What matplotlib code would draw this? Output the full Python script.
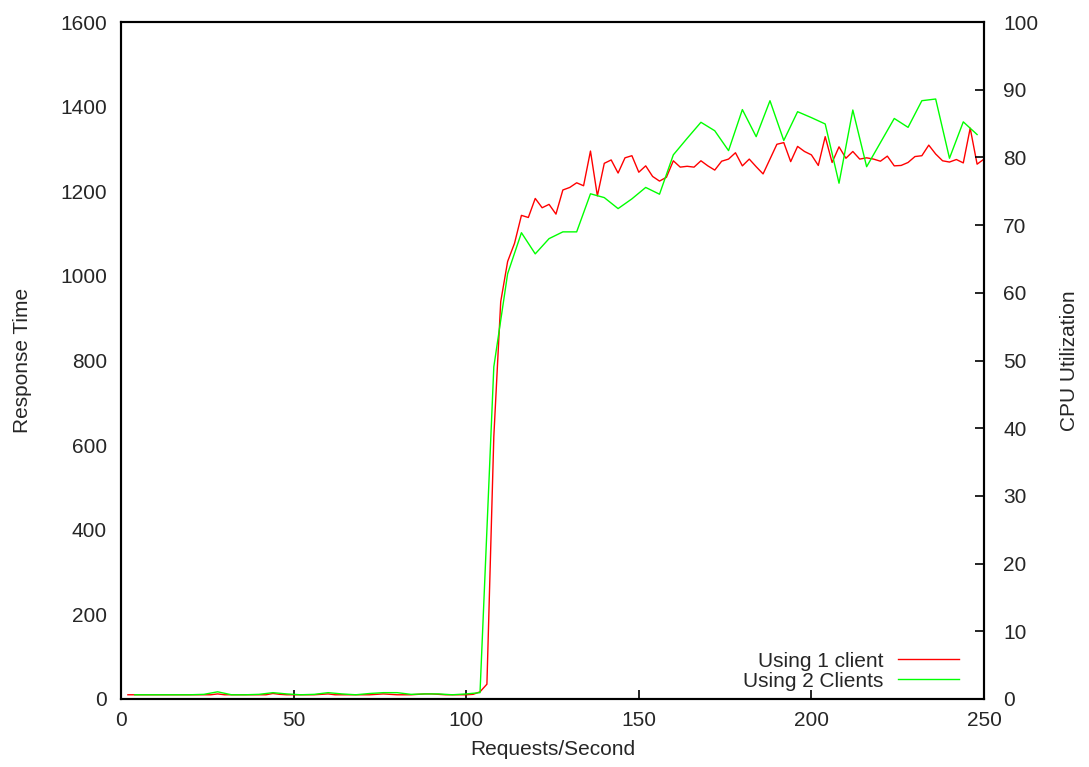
import matplotlib
matplotlib.use("Agg")
import matplotlib.pyplot as plt
import numpy as np

plt.rcParams['font.family'] = ['Liberation Sans', 'DejaVu Sans']

# ---- data ----
x_one = list(range(2, 251, 2))
y_one = [
    # 2 .. 102
    10, 10, 10, 10, 10, 10, 10, 10, 10, 10,
    10, 10, 10, 12, 10, 10, 10, 10, 10, 10,
    10, 13, 11, 10, 10, 10, 10, 10, 11, 12,
    10, 10, 10, 10, 10, 10, 11, 12, 11, 10,
    10, 10, 11, 12, 12, 11, 10, 10, 10, 10,
    11,
    # 104 .. 166
    17, 35, 620, 939, 1034, 1077, 1143, 1138, 1183, 1161,
    1169, 1146, 1203, 1209, 1220, 1213, 1295, 1189, 1266, 1274,
    1243, 1279, 1284, 1245, 1260, 1235, 1224, 1233, 1272, 1257,
    1259, 1257,
    # 168 .. 250
    1272, 1260, 1250, 1271, 1276, 1291, 1260, 1276, 1258, 1241,
    1276, 1311, 1315, 1270, 1306, 1294, 1286, 1261, 1329, 1268,
    1305, 1278, 1294, 1276, 1279, 1276, 1271, 1283, 1260, 1261,
    1268, 1282, 1284, 1309, 1288, 1272, 1269, 1275, 1267, 1349,
    1264, 1276,
]
x_two = list(range(4, 249, 4))
y_two = [
    # 4 .. 100
    10, 10, 10, 10, 10, 11, 17, 10, 10, 11,
    15, 12, 10, 11, 15, 12, 10, 13, 15, 15,
    11, 12, 12, 10, 12,
    # 104 .. 248
    15, 785, 1005, 1102, 1052, 1088, 1104, 1104, 1194, 1185,
    1159, 1182, 1209, 1193, 1286, 1325, 1363, 1343, 1296, 1393,
    1329, 1414, 1320, 1388, 1374, 1359, 1219, 1392, 1258, 1315,
    1372, 1351, 1414, 1418, 1278, 1364, 1334,
]
label_one = "Using 1 client"
label_two = "Using 2 Clients"
x_ticks = [0, 50, 100, 150, 200, 250]
y_ticks = list(range(0, 1601, 200))
y2_ticks = list(range(0, 101, 10))

# ---- figure ----
W, H = 1089, 767
fig = plt.figure(figsize=(W / 100, H / 100), dpi=100)
ax = fig.add_axes([121 / W, 1 - 699 / H, (984 - 121) / W, (699 - 22) / H])

txt = '#262626'
fs = 15

ax.plot(x_one, y_one, color='#ff0000', lw=1.0, label=label_one)
ax.plot(x_two, y_two, color='#00ff00', lw=1.0, label=label_two)

ax.set_xlim(0, 250)
ax.set_ylim(0, 1600)
ax.set_xticks(x_ticks)
ax.set_yticks(y_ticks)
ax.tick_params(axis='x', direction='in', length=6.5, width=1.2, pad=9,
               labelsize=fs, labelcolor=txt, top=False)
ax.tick_params(axis='y', length=0, pad=10, labelsize=fs, labelcolor=txt)
for s in ax.spines.values():
    s.set_linewidth(1.5)

ax.set_xlabel("Requests/Second", fontsize=fs, color=txt, labelpad=7)
ax.set_ylabel("Response Time", fontsize=fs, color=txt, labelpad=20)

ax2 = ax.twinx()
ax2.set_ylim(0, 100)
ax2.set_yticks(y2_ticks)
ax2.tick_params(axis='y', direction='in', length=6.5, width=1.2, pad=13.7,
                labelsize=fs, labelcolor=txt)
for s in ax2.spines.values():
    s.set_linewidth(1.5)
ax2.set_ylabel("CPU Utilization", fontsize=fs, color=txt, labelpad=16,
               rotation=90)

leg = ax.legend(loc='lower right', bbox_to_anchor=(969 / W, 1 - 701 / H),
                bbox_transform=fig.transFigure, frameon=False,
                markerfirst=False, handlelength=2.9, handletextpad=0.7,
                labelspacing=0.05, fontsize=fs, borderpad=0.0)
for t in leg.get_texts():
    t.set_color(txt)
    t.set_ha('right')

fig.savefig("out.png", dpi=100)
